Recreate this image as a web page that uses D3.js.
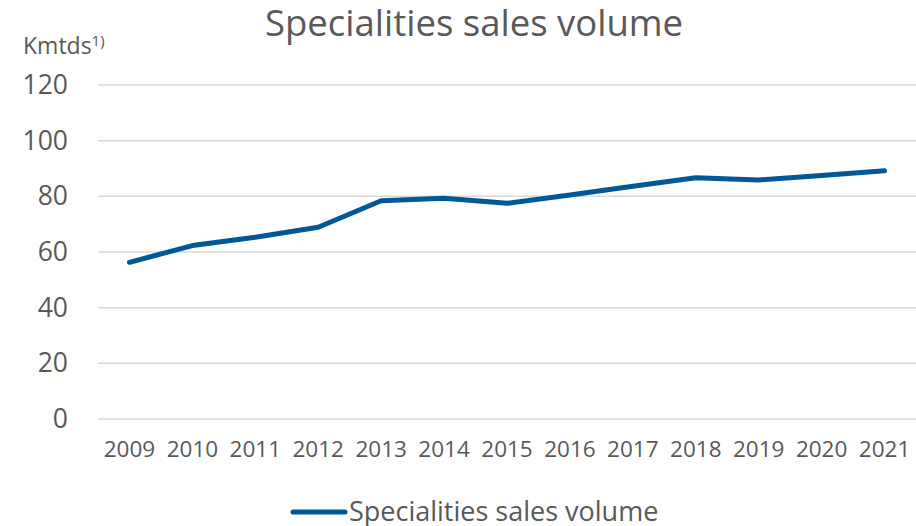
<!DOCTYPE html>
<html>
<head>
<meta charset="utf-8">
<script src="https://cdn.jsdelivr.net/npm/d3@7"></script>
<style>
  body { margin: 0; background: #fff; }
  svg { display: block; font-family: "Open Sans", sans-serif; }
</style>
</head>
<body>
<svg id="svg" width="916" height="526"></svg>
<script>
const years = ['2009', '2010', '2011', '2012', '2013', '2014', '2015', '2016', '2017', '2018', '2019', '2020', '2021'];
const volume = [56.3, 62.3, 65.3, 68.9, 78.4, 79.3, 77.5, 80.5, 83.6, 86.7, 85.9, 87.5, 89.2];
const yTicks = [0, 20, 40, 60, 80, 100, 120];

const title = 'Specialities sales volume';
const seriesName = 'Specialities sales volume';
const textColor = '#595959';

const svg = d3.select('#svg');

const x = d3.scaleBand().domain(years).range([98, 916]);
const y = d3.scaleLinear().domain([0, 120]).range([419, 85]);

// gridlines
svg.append('g').
selectAll('line').
data(yTicks).
enter().
append('line').
attr('x1', 98).
attr('x2', 916).
attr('y1', d => y(d)).
attr('y2', d => y(d)).
attr('stroke', '#d9d9d9').
attr('stroke-width', 1.5);

// y axis labels
const yAxis = d3.axisLeft(y).tickValues(yTicks).tickSize(0).tickPadding(0);
svg.append('g').
attr('transform', 'translate(68,0)').
call(yAxis).
call(g => g.select('.domain').remove()).
call(g => g.selectAll('text').
  attr('font-size', 26.5).
  attr('fill', textColor).
  attr('font-family', '"Open Sans", sans-serif'));

// x axis labels
const xAxis = d3.axisBottom(x).tickSize(0).tickPadding(0);
svg.append('g').
attr('transform', 'translate(0,441)').
call(xAxis).
call(g => g.select('.domain').remove()).
call(g => g.selectAll('text').
  attr('font-size', 22.5).
  attr('fill', textColor).
  attr('font-family', '"Open Sans", sans-serif'));

// line
const line = d3.line().
x((d, i) => x(years[i]) + x.bandwidth() / 2).
y(d => y(d));

svg.append('path').
datum(volume).
attr('d', line).
attr('fill', 'none').
attr('stroke', '#005896').
attr('stroke-width', 5).
attr('stroke-linejoin', 'round').
attr('stroke-linecap', 'round');

// title
svg.append('text').
attr('x', 474).
attr('y', 35.5).
attr('text-anchor', 'middle').
attr('font-size', 36.5).
attr('fill', textColor).
text(title);

// unit label
const unit = svg.append('text').
attr('x', 23).
attr('y', 54).
attr('font-size', 23).
attr('fill', textColor);
unit.append('tspan').text('Kmtds');
unit.append('tspan').attr('font-size', 15).attr('dy', -8).text('1)');

// legend
svg.append('line').
attr('x1', 293).
attr('x2', 345).
attr('y1', 512).
attr('y2', 512).
attr('stroke', '#005896').
attr('stroke-width', 5).
attr('stroke-linecap', 'round');

svg.append('text').
attr('x', 349).
attr('y', 521).
attr('font-size', 27).
attr('fill', textColor).
text(seriesName);
</script>
</body>
</html>
